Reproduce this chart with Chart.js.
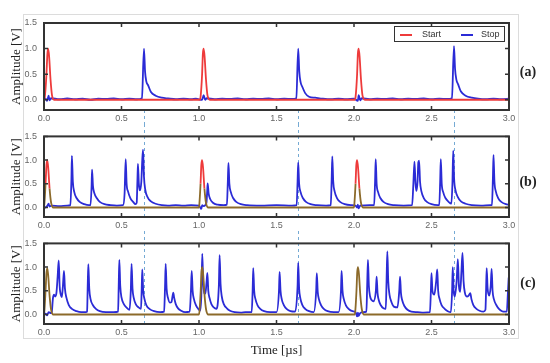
<!DOCTYPE html>
<html lang="en">
<head>
<meta charset="UTF-8">
<title>Start / Stop pulses</title>
<script src="https://cdn.jsdelivr.net/npm/chart.js"></script>
<style>
  body { margin: 0; width: 550px; height: 363px; background: #fff; position: relative; overflow: hidden; }
  #frame { position: absolute; left: 23px; top: 14px; width: 496px; height: 325px; border: 1px solid #dcdcdc; box-sizing: border-box; }
  canvas { position: absolute; left: 0; }
  .tag { position: absolute; left: 516px; width: 24px; text-align: center; font: bold 14px "Liberation Serif", serif; color: #222; line-height: 16px; }
  #legend { position: absolute; left: 394px; top: 26px; width: 111px; height: 16px; border: 1.5px solid #333; box-sizing: border-box; background: #fff;
            font: 9px "Liberation Sans", sans-serif; color: #333; }
  #legend span { position: absolute; top: 2px; }
  #legend i { position: absolute; top: 6.5px; height: 2px; width: 12px; }
</style>
</head>
<body>
  <div id="frame"></div>
  <canvas id="chartA" width="550" height="124" style="top:0px"></canvas>
  <canvas id="chartB" width="550" height="107" style="top:124px"></canvas>
  <canvas id="chartC" width="550" height="132" style="top:231px"></canvas>
  <div id="legend">
    <i style="left:5px;background:#ee3b3b"></i><span style="left:27px">Start</span>
    <i style="left:66px;background:#2b2bd6"></i><span style="left:86px">Stop</span>
  </div>
  <div class="tag" style="top:64px">(a)</div>
  <div class="tag" style="top:174px">(b)</div>
  <div class="tag" style="top:275px">(c)</div>
<script>
  // axis ticks
  const xTicks = [0, 0.5, 1, 1.5, 2, 2.5, 3];
  const yTicks = [0, 0.5, 1, 1.5];
  // stop times that line up across the panels (dashed guides)
  const markerTimes = [0.645, 1.64, 2.645];

  // panel (a): [time µs, amplitude V]
  const startA = [[0,0],[0.005,0.05],[0.015,0.45],[0.022,0.9],[0.027,1.0],[0.033,0.85],[0.042,0.4],[0.052,0.08],[0.065,0],
    [1.005,0],[1.01,0.05],[1.02,0.5],[1.025,0.9],[1.03,1.0],[1.036,0.85],[1.045,0.4],[1.055,0.08],[1.07,0],
    [2.005,0],[2.01,0.05],[2.02,0.5],[2.025,0.9],[2.03,1.0],[2.036,0.85],[2.045,0.4],[2.055,0.08],[2.07,0],[3,0]];
  const stopA = [[0,0],[0.01,0.02],[0.02,-0.02],[0.03,0.08],[0.035,-0.01],[0.045,0.03],[0.1,0.01],[0.15,0.025],[0.2,0.01],[0.25,0.02],[0.3,0.0],
    [0.35,0.02],[0.4,0.015],[0.45,0.025],[0.5,0.01],[0.55,0.02],[0.6,0.01],[0.632,0.03],[0.645,1.0],[0.652,0.55],[0.66,0.36],[0.672,0.28],
    [0.69,0.15],[0.72,0.08],[0.76,0.04],[0.8,0.025],[0.85,0.01],[0.9,0.02],[0.95,0.01],[0.98,0.02],[1.02,0.0],[1.03,0.09],[1.04,0.0],[1.05,0.03],
    [1.1,0.01],[1.15,0.02],[1.2,0.015],[1.25,0.025],[1.3,0.01],[1.35,0.02],[1.4,0.015],[1.45,0.025],[1.5,0.01],[1.55,0.02],[1.6,0.015],
    [1.628,0.03],[1.64,1.0],[1.647,0.55],[1.655,0.35],[1.667,0.25],[1.685,0.13],[1.71,0.06],[1.75,0.04],[1.8,0.02],[1.85,0.01],[1.9,0.02],
    [1.95,0.01],[2.0,0.02],[2.025,-0.02],[2.03,0.09],[2.04,-0.01],[2.05,0.03],[2.1,0.01],[2.15,0.02],[2.2,0.015],[2.25,0.025],[2.3,0.01],
    [2.35,0.02],[2.4,0.015],[2.45,0.025],[2.5,0.01],[2.55,0.02],[2.6,0.015],[2.632,0.03],[2.645,1.05],[2.652,0.6],[2.66,0.4],[2.672,0.3],
    [2.69,0.16],[2.72,0.08],[2.76,0.04],[2.8,0.02],[2.85,0.01],[2.9,0.02],[2.95,0.01],[3,0.02]];

  // panel (b)
  const startB = [[0,0],[0.003,0.1],[0.01,0.5],[0.016,0.9],[0.021,1.0],[0.027,0.85],[0.036,0.4],[0.046,0.1],[0.06,0],
    [1.0,0],[1.003,0.1],[1.01,0.5],[1.015,0.9],[1.02,1.0],[1.026,0.85],[1.035,0.4],[1.045,0.1],[1.06,0],
    [2.0,0],[2.003,0.1],[2.01,0.5],[2.015,0.9],[2.02,1.0],[2.026,0.85],[2.035,0.4],[2.045,0.1],[2.06,0],[3,0]];
  const stopB = [[0,0.02],[0.01,0.0],[0.02,0.03],[0.03,0.08],[0.035,0.02],[0.05,0.04],[0.1,0.03],[0.15,0.04],
    [0.17,0.05],[0.177,0.6],[0.18,1.09],[0.186,0.55],[0.195,0.33],[0.21,0.2],[0.23,0.12],[0.26,0.07],[0.29,0.05],
    [0.3,0.05],[0.307,0.45],[0.31,0.8],[0.316,0.45],[0.325,0.3],[0.34,0.2],[0.36,0.12],[0.39,0.07],[0.43,0.05],[0.47,0.04],[0.51,0.05],
    [0.52,0.3],[0.527,1.02],[0.533,0.5],[0.542,0.34],[0.557,0.2],[0.575,0.12],[0.59,0.07],[0.598,0.1],
    [0.603,0.6],[0.606,0.92],[0.612,0.5],[0.619,0.36],[0.628,0.55],[0.634,1.0],[0.639,1.22],[0.645,0.65],[0.653,0.38],[0.668,0.22],
    [0.69,0.13],[0.72,0.08],[0.76,0.05],[0.8,0.04],[0.85,0.05],[0.9,0.04],[0.95,0.05],[1.0,0.04],[1.015,-0.03],[1.02,0.05],[1.03,0.03],
    [1.048,0.1],[1.053,0.35],[1.056,0.51],[1.062,0.3],[1.072,0.18],[1.09,0.1],[1.12,0.06],[1.16,0.05],
    [1.18,0.06],[1.186,0.55],[1.19,0.94],[1.196,0.5],[1.205,0.33],[1.22,0.2],[1.24,0.12],[1.27,0.07],[1.31,0.05],[1.4,0.04],[1.5,0.05],[1.6,0.04],
    [1.63,0.05],[1.636,0.55],[1.64,0.95],[1.646,0.5],[1.655,0.33],[1.67,0.2],[1.69,0.12],[1.72,0.07],[1.76,0.05],[1.82,0.04],
    [1.85,0.05],[1.856,0.6],[1.86,1.08],[1.866,0.55],[1.875,0.34],[1.89,0.2],[1.91,0.12],[1.94,0.07],[1.98,0.05],[2.01,0.04],
    [2.02,0.0],[2.025,0.06],[2.03,-0.02],[2.04,0.04],[2.1,0.05],
    [2.13,0.05],[2.136,0.55],[2.14,1.02],[2.146,0.5],[2.155,0.33],[2.17,0.2],[2.19,0.12],[2.22,0.07],[2.26,0.05],[2.32,0.04],[2.375,0.05],
    [2.383,0.5],[2.39,0.97],[2.397,0.5],[2.403,0.35],[2.41,0.55],[2.415,0.95],[2.42,0.99],[2.426,0.55],[2.435,0.34],[2.45,0.2],[2.47,0.12],[2.5,0.07],[2.54,0.05],
    [2.55,0.05],[2.556,0.55],[2.56,1.02],[2.566,0.5],[2.575,0.33],[2.59,0.2],[2.61,0.12],[2.628,0.08],
    [2.635,0.5],[2.64,1.2],[2.646,0.6],[2.655,0.36],[2.67,0.22],[2.69,0.13],[2.72,0.08],[2.76,0.05],[2.82,0.04],[2.88,0.05],
    [2.89,0.05],[2.896,0.6],[2.9,1.11],[2.906,0.55],[2.915,0.34],[2.93,0.2],[2.95,0.12],[2.98,0.07],[3,0.06]];

  // panel (c)
  const startC = [[0,0],[0.003,0.1],[0.01,0.5],[0.016,0.88],[0.021,0.98],[0.027,0.83],[0.036,0.4],[0.046,0.1],[0.06,0],
    [1.0,0],[1.004,0.1],[1.011,0.5],[1.016,0.9],[1.021,1.0],[1.027,0.85],[1.036,0.4],[1.046,0.1],[1.06,0],
    [2.005,0],[2.009,0.1],[2.016,0.5],[2.021,0.9],[2.026,1.0],[2.032,0.85],[2.041,0.4],[2.051,0.1],[2.065,0],[3,0]];
  const stopC = [[0,0.0],[0.01,0.02],[0.02,-0.02],[0.03,0.05],[0.045,0.03],[0.05,0.05],[0.058,0.35],[0.065,0.42],[0.072,0.38],[0.08,0.45],
    [0.088,0.8],[0.095,1.14],[0.101,0.6],[0.11,0.4],[0.115,0.37],[0.122,0.6],[0.129,0.92],[0.135,0.55],[0.145,0.35],[0.16,0.2],
    [0.18,0.12],[0.21,0.07],[0.24,0.05],[0.27,0.05],
    [0.278,0.06],[0.282,0.6],[0.286,1.06],[0.292,0.55],[0.3,0.33],[0.315,0.2],[0.335,0.12],[0.36,0.07],[0.4,0.05],[0.45,0.05],
    [0.478,0.06],[0.482,0.6],[0.486,1.15],[0.492,0.6],[0.5,0.36],[0.515,0.22],[0.535,0.14],[0.552,0.1],
    [0.56,0.5],[0.565,1.07],[0.571,0.55],[0.579,0.35],[0.592,0.22],[0.61,0.15],[0.626,0.12],
    [0.63,0.5],[0.634,0.95],[0.64,0.5],[0.648,0.33],[0.66,0.2],[0.68,0.12],[0.71,0.07],[0.75,0.05],[0.775,0.06],
    [0.781,0.6],[0.785,1.07],[0.791,0.55],[0.8,0.35],[0.812,0.25],[0.822,0.26],[0.829,0.38],[0.834,0.46],[0.84,0.35],[0.85,0.22],
    [0.865,0.13],[0.885,0.08],[0.91,0.05],[0.94,0.06],
    [0.948,0.5],[0.953,0.92],[0.959,0.5],[0.967,0.33],[0.98,0.2],[0.995,0.12],[1.008,0.08],
    [1.015,0.4],[1.021,1.28],[1.027,0.7],[1.034,0.45],[1.041,0.44],[1.048,0.65],[1.054,0.88],[1.06,0.5],[1.068,0.35],[1.08,0.22],
    [1.095,0.15],[1.112,0.12],
    [1.128,0.6],[1.133,1.25],[1.139,0.65],[1.147,0.38],[1.16,0.22],[1.18,0.13],[1.2,0.08],[1.23,0.05],[1.27,0.04],[1.3,0.05],[1.34,0.05],
    [1.346,0.5],[1.35,0.98],[1.356,0.5],[1.364,0.33],[1.377,0.2],[1.395,0.12],[1.42,0.07],[1.46,0.05],[1.5,0.05],
    [1.516,0.5],[1.52,0.9],[1.526,0.5],[1.534,0.32],[1.547,0.2],[1.565,0.12],[1.59,0.07],[1.62,0.06],
    [1.636,0.6],[1.64,1.09],[1.646,0.55],[1.654,0.34],[1.667,0.2],[1.685,0.12],[1.71,0.07],[1.74,0.05],
    [1.756,0.5],[1.76,0.87],[1.766,0.48],[1.774,0.32],[1.787,0.2],[1.805,0.12],[1.83,0.07],[1.87,0.05],[1.9,0.05],
    [1.916,0.5],[1.92,0.92],[1.926,0.5],[1.934,0.33],[1.947,0.2],[1.965,0.12],[1.99,0.07],[2.01,0.05],[2.02,-0.04],[2.025,0.04],
    [2.03,-0.03],[2.04,0.03],[2.06,0.05],[2.08,0.06],
    [2.085,0.6],[2.09,1.15],[2.096,0.6],[2.104,0.38],[2.115,0.3],[2.125,0.28],
    [2.141,0.5],[2.146,0.8],[2.152,0.45],[2.16,0.3],[2.172,0.2],[2.19,0.13],[2.205,0.12],
    [2.21,0.7],[2.215,1.33],[2.221,0.7],[2.229,0.42],[2.242,0.26],[2.26,0.16],[2.28,0.15],
    [2.292,0.5],[2.297,0.8],[2.303,0.45],[2.311,0.3],[2.325,0.18],[2.345,0.1],[2.37,0.06],[2.41,0.05],[2.45,0.04],[2.49,0.05],
    [2.496,0.5],[2.5,0.87],[2.506,0.5],[2.518,0.42],[2.53,0.7],[2.537,0.95],[2.543,0.5],[2.552,0.33],[2.565,0.2],[2.585,0.12],
    [2.605,0.07],[2.625,0.05],
    [2.633,0.5],[2.637,1.0],[2.643,0.5],[2.65,0.38],[2.662,0.7],[2.67,1.17],[2.677,0.6],[2.685,0.48],[2.693,0.9],[2.7,1.3],
    [2.707,0.7],[2.716,0.45],[2.728,0.38],[2.74,0.4],[2.75,0.45],[2.758,0.32],[2.77,0.2],[2.79,0.12],[2.81,0.08],[2.835,0.06],[2.848,0.1],
    [2.852,0.5],[2.856,0.98],[2.862,0.55],[2.872,0.4],[2.882,0.6],[2.888,0.96],[2.894,0.5],[2.903,0.32],[2.918,0.2],[2.935,0.12],
    [2.955,0.07],[2.975,0.06],[2.986,0.06],[2.992,0.4],[2.998,0.78]];

  const RED = '#ee3b3b';
  const BLUE = '#2b2bd6';
  const BROWN = '#8c6a2a';

  const toPts = arr => arr.map(p => ({ x: p[0], y: p[1] }));

  // dashed guides, box around the plot and small inward ticks
  const framePlugin = {
    id: 'frame',
    beforeDatasetsDraw(chart, args, opts) {
      const { ctx, chartArea: a, scales: { x } } = chart;
      ctx.save();
      ctx.strokeStyle = 'rgba(110,165,210,0.95)';
      ctx.lineWidth = 1;
      ctx.setLineDash([3, 3]);
      markerTimes.forEach(t => {
        const px = Math.round(x.getPixelForValue(t)) + 0.5;
        ctx.beginPath();
        if (opts.below) { ctx.moveTo(px, a.bottom); ctx.lineTo(px, chart.height); }
        else { ctx.moveTo(px, 0); ctx.lineTo(px, a.bottom); }
        ctx.stroke();
      });
      ctx.restore();
    },
    afterDatasetsDraw(chart) {
      const { ctx, chartArea: a, scales: { x, y } } = chart;
      ctx.save();
      ctx.strokeStyle = '#333';
      ctx.lineWidth = 1.5;
      ctx.beginPath();
      xTicks.forEach(v => {
        const px = x.getPixelForValue(v);
        ctx.moveTo(px, a.bottom); ctx.lineTo(px, a.bottom - 4);
        ctx.moveTo(px, a.top); ctx.lineTo(px, a.top + 4);
      });
      yTicks.forEach(v => {
        const py = y.getPixelForValue(v);
        ctx.moveTo(a.left, py); ctx.lineTo(a.left + 4, py);
        ctx.moveTo(a.right, py); ctx.lineTo(a.right - 4, py);
      });
      ctx.stroke();
      ctx.lineWidth = 2;
      ctx.strokeRect(a.left, a.top, a.right - a.left, a.bottom - a.top);
      ctx.restore();
    }
  };

  function makePanel(id, datasets, pad, xHeight, below, xTitle) {
    new Chart(document.getElementById(id), {
      type: 'line',
      data: { datasets },
      options: {
        responsive: false,
        animation: false,
        devicePixelRatio: 1,
        layout: { padding: { top: pad[0], right: 41, bottom: pad[1], left: 0 } },
        elements: { point: { radius: 0 }, line: { borderWidth: 1.8, cubicInterpolationMode: 'monotone' } },
        plugins: { legend: { display: false }, tooltip: { enabled: false }, frame: { below } },
        scales: {
          x: {
            type: 'linear', min: 0, max: 3,
            afterBuildTicks: s => { s.ticks = xTicks.map(v => ({ value: v })); },
            afterFit: s => { s.height = xHeight; },
            grid: { display: false, drawTicks: false },
            border: { display: false },
            ticks: { padding: 3, color: '#666', font: { family: 'Liberation Sans', size: 9 }, callback: v => v.toFixed(1) },
            title: { display: !!xTitle, text: xTitle, color: '#222', padding: { top: 2, bottom: 2 },
                     font: { family: 'Liberation Serif', size: 13 } }
          },
          y: {
            min: -0.2, max: 1.5,
            afterBuildTicks: s => { s.ticks = yTicks.map(v => ({ value: v })); },
            afterFit: s => { s.width = 44; },
            grid: { display: false, drawTicks: false },
            border: { display: false },
            ticks: { padding: 7, color: '#666', font: { family: 'Liberation Sans', size: 9 }, callback: v => v.toFixed(1) },
            title: { display: true, text: 'Amplitude [V]', color: '#222', padding: { top: 9, bottom: 0 },
                     font: { family: 'Liberation Serif', size: 13 } }
          }
        }
      },
      plugins: [framePlugin]
    });
  }

  makePanel('chartA', [
    { label: 'Start', data: toPts(startA), borderColor: RED },
    { label: 'Stop', data: toPts(stopA), borderColor: BLUE }
  ], [23, 0], 14, true, '');

  makePanel('chartB', [
    { label: 'Start', data: toPts(startB), borderColor: BROWN,
      segment: { borderColor: c => Math.max(c.p0.parsed.y, c.p1.parsed.y) > 0.5 ? RED : BROWN } },
    { label: 'Stop', data: toPts(stopB), borderColor: BLUE }
  ], [3, 0], 14, false, '');

  makePanel('chartC', [
    { label: 'Start', data: toPts(startC), borderColor: BROWN },
    { label: 'Stop', data: toPts(stopC), borderColor: BLUE }
  ], [4, 3], 36, false, 'Time [µs]');
</script>
</body>
</html>
